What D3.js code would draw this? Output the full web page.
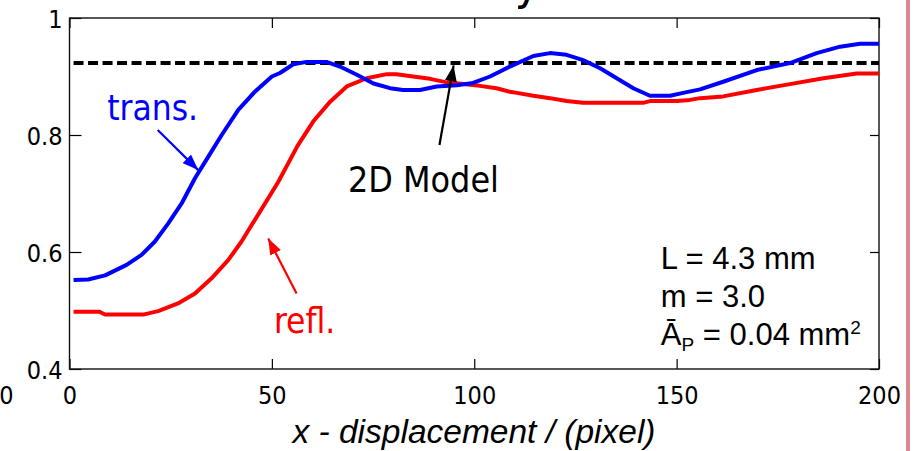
<!DOCTYPE html>
<html>
<head>
<meta charset="utf-8">
<script src="https://cdn.jsdelivr.net/npm/d3@7"></script>
<style>
  html, body { margin: 0; padding: 0; background: #fff; }
  svg { display: block; }
  .tick text { font-family: "DejaVu Sans Condensed", "DejaVu Sans", sans-serif; font-size: 25px; fill: #000; }
</style>
</head>
<body>
<svg id="chart" width="915" height="451"></svg>
<script>
// Transmission profile along the displacement axis
const transX = [1, 4.6, 8.8, 14.1, 17.8, 21.1, 24.4, 27.7, 31.0, 34.3, 37.6, 41.7, 45.8, 50.0, 52.0, 55.3, 58.6, 63.5, 66.8, 71.0, 75.1, 79.2, 82.4, 86.6, 90.7, 95.7, 99.7, 103.9, 108.8, 114.6, 118.7, 122.8, 126.9, 131.1, 135.2, 139.3, 143.4, 148.4, 151.6, 155.8, 161.5, 169.8, 178.0, 184.6, 190.4, 195.3, 200];
const transY = [0.552, 0.553, 0.560, 0.578, 0.595, 0.618, 0.649, 0.683, 0.726, 0.763, 0.800, 0.843, 0.874, 0.900, 0.906, 0.921, 0.925, 0.925, 0.917, 0.903, 0.888, 0.880, 0.877, 0.877, 0.883, 0.885, 0.889, 0.900, 0.917, 0.935, 0.940, 0.937, 0.928, 0.914, 0.897, 0.880, 0.867, 0.867, 0.872, 0.878, 0.891, 0.911, 0.923, 0.940, 0.951, 0.956, 0.956];

// Reflection profile
const reflX = [1, 7.4, 8.8, 18.2, 21.9, 26.8, 31.0, 35.1, 39.2, 42.5, 45.8, 49.1, 51.6, 56.3, 60.2, 64.4, 68.5, 73.4, 78.4, 80.8, 84.9, 89.1, 93.2, 97.3, 101.4, 105.5, 108.8, 110.5, 114.6, 118.7, 122.8, 126.9, 141.7, 143.4, 150.1, 153.3, 155.8, 161.5, 169.8, 178.0, 186.3, 194.5, 200];
const reflY = [0.498, 0.498, 0.493, 0.493, 0.499, 0.512, 0.529, 0.555, 0.586, 0.618, 0.655, 0.692, 0.720, 0.781, 0.823, 0.857, 0.883, 0.897, 0.904, 0.904, 0.900, 0.896, 0.890, 0.887, 0.884, 0.880, 0.874, 0.872, 0.867, 0.863, 0.858, 0.855, 0.855, 0.858, 0.858, 0.860, 0.863, 0.866, 0.877, 0.887, 0.897, 0.905, 0.905];

// 2D model level
const modelX = [1, 200];
const modelY = [0.923, 0.923];

// Axis ticks
const xTicks = [0, 50, 100, 150, 200];
const yTicks = [0.4, 0.6, 0.8, 1];
const yTickLabels = ["0.4", "0.6", "0.8", "1"];

const svg = d3.select("#chart");
svg.append("rect").attr("width", 915).attr("height", 451).attr("fill", "#fff");

const x = d3.scaleLinear().domain([0, 200]).range([69.5, 879]);
const y = d3.scaleLinear().domain([0.4, 1]).range([369, 18]);

const defs = svg.append("defs");

// Title sitting above the top edge of the page; only the tail of its last letter reaches in
defs.append("clipPath").attr("id", "title-clip")
  .append("rect").attr("x", 518).attr("y", 0).attr("width", 30).attr("height", 16);
svg.append("text")
  .attr("clip-path", "url(#title-clip)")
  .attr("x", 540).attr("y", -1)
  .attr("text-anchor", "end")
  .attr("font-family", "DejaVu Sans Condensed, DejaVu Sans, sans-serif")
  .attr("font-size", 48)
  .text("Intensity");

// Axes with inward ticks
const gB = svg.append("g").attr("transform", `translate(0,${y(0.4)})`)
  .call(d3.axisBottom(x).tickValues(xTicks).tickSize(-10).tickFormat(d3.format("d")));
gB.selectAll("text").attr("y", 35).attr("dy", 0);
const gT = svg.append("g").attr("transform", `translate(0,${y(1)})`)
  .call(d3.axisTop(x).tickValues(xTicks).tickSize(-10).tickFormat(""));
const gL = svg.append("g").attr("transform", `translate(${x(0)},0)`)
  .call(d3.axisLeft(y).tickValues(yTicks).tickSize(-12).tickFormat((d, i) => yTickLabels[i]));
gL.selectAll("text").attr("x", -7).attr("dy", "0.36em");
const gR = svg.append("g").attr("transform", `translate(${x(200)},0)`)
  .call(d3.axisRight(y).tickValues(yTicks).tickSize(-9).tickFormat(""));
[gB, gT, gL, gR].forEach(g => {
  g.select(".domain").remove();
  g.selectAll("line").attr("stroke", "#000").attr("stroke-width", 1.2);
});

// Frame
svg.append("rect")
  .attr("x", x(0)).attr("y", y(1))
  .attr("width", x(200) - x(0)).attr("height", y(0.4) - y(1))
  .attr("fill", "none").attr("stroke", "#111").attr("stroke-width", 1.4);

// Neighbouring axis label fragment on the far left
svg.append("text")
  .attr("x", 13.5).attr("y", y(0.4) + 35)
  .attr("text-anchor", "end")
  .attr("font-family", "DejaVu Sans Condensed, DejaVu Sans, sans-serif")
  .attr("font-size", 25)
  .text("200");

const line = d3.line().x(d => x(d[0])).y(d => y(d[1]));

svg.append("path")
  .datum(modelX.map((v, i) => [v, modelY[i]]))
  .attr("d", line).attr("fill", "none")
  .attr("stroke", "#000").attr("stroke-width", 4)
  .attr("stroke-dasharray", "10,4.5");

svg.append("path")
  .datum(reflX.map((v, i) => [v, reflY[i]]))
  .attr("d", line).attr("fill", "none")
  .attr("stroke", "#ff0000").attr("stroke-width", 4)
  .attr("stroke-linejoin", "round");

svg.append("path")
  .datum(transX.map((v, i) => [v, transY[i]]))
  .attr("d", line).attr("fill", "none")
  .attr("stroke", "#0000ff").attr("stroke-width", 4)
  .attr("stroke-linejoin", "round");

// Annotation arrows
[["blue", "#0000ff"], ["red", "#ff0000"], ["black", "#000"]].forEach(([id, c]) => {
  defs.append("marker")
    .attr("id", "head-" + id)
    .attr("markerUnits", "userSpaceOnUse")
    .attr("viewBox", "0 -6 16 12")
    .attr("refX", 16).attr("refY", 0)
    .attr("markerWidth", 16).attr("markerHeight", 12)
    .attr("orient", "auto")
    .append("path").attr("d", "M0,-6L16,0L0,6Z").attr("fill", c);
});

function arrow(x0, y0, x1, y1, id, c) {
  svg.append("line")
    .attr("x1", x(x0)).attr("y1", y(y0))
    .attr("x2", x(x1)).attr("y2", y(y1))
    .attr("stroke", c).attr("stroke-width", 2.2)
    .attr("marker-end", `url(#head-${id})`);
}
arrow(21.8, 0.8085, 31.8, 0.740, "blue", "#0000ff");
arrow(56.1, 0.529, 49.1, 0.623, "red", "#ff0000");
arrow(91.4, 0.783, 94.9, 0.919, "black", "#000");

const annFont = "DejaVu Sans Condensed, DejaVu Sans, sans-serif";
svg.append("text").attr("x", x(9.3)).attr("y", y(0.826))
  .attr("font-family", annFont).attr("font-size", 35).attr("fill", "#0000ff").text("trans.");
svg.append("text").attr("x", x(50.5)).attr("y", y(0.4615))
  .attr("font-family", annFont).attr("font-size", 35).attr("fill", "#ff0000").text("refl.");
svg.append("text").attr("x", x(68.8)).attr("y", y(0.7026))
  .attr("font-family", annFont).attr("font-size", 35.5).attr("fill", "#000").text("2D Model");

// Parameter block
const pFont = "Liberation Sans, Arial, sans-serif";
svg.append("text").attr("x", x(146.1)).attr("y", y(0.5704))
  .attr("font-family", pFont).attr("font-size", 31).text("L = 4.3 mm");
svg.append("text").attr("x", x(146.1)).attr("y", y(0.5055))
  .attr("font-family", pFont).attr("font-size", 31).text("m = 3.0");
const p3 = svg.append("text").attr("x", x(146.1)).attr("y", y(0.441))
  .attr("font-family", pFont).attr("font-size", 31);
p3.append("tspan").text("\u0100");
p3.append("tspan").attr("font-size", 19).attr("dy", 6).text("P");
p3.append("tspan").attr("dy", -6).text(" = 0.04 mm");
p3.append("tspan").attr("font-size", 19).attr("dy", -11).text("2");

// Axis title
svg.append("text")
  .attr("x", 474).attr("y", 443)
  .attr("text-anchor", "middle")
  .attr("font-family", pFont).attr("font-style", "italic").attr("font-size", 33.5)
  .text("x - displacement / (pixel)");

// Page edge rule on the right
svg.append("rect").attr("x", 906).attr("y", 0).attr("width", 4).attr("height", 451).attr("fill", "#d98a8e");
</script>
</body>
</html>
